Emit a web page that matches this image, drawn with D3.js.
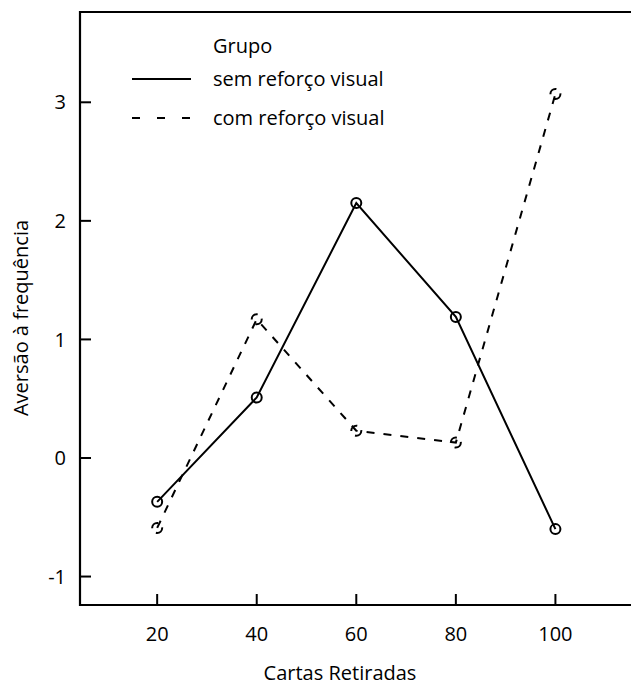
<!DOCTYPE html>
<html lang="pt">
<head>
<meta charset="UTF-8">
<script src="https://d3js.org/d3.v7.min.js"></script>
<style>
  body { margin: 0; background: #fff; }
  text { font-family: "Open Sans", "Noto Sans", sans-serif; fill: #000; }
</style>
</head>
<body>
<script>
  // dados
  const cartas = [20, 40, 60, 80, 100]
  const semReforco = [-0.37, 0.51, 2.15, 1.19, -0.60]
  const comReforco = [-0.59, 1.17, 0.23, 0.13, 3.07]
  const yTicks = [-1, 0, 1, 2, 3]
  const xTicks = [20, 40, 60, 80, 100]
  const grupos = ["sem reforço visual", "com reforço visual"]

  const width = 631, height = 689
  const fs = 20
  const svg = d3.select("body").append("svg")
    .attr("width", width)
    .attr("height", height)

  const x = d3.scaleLinear().domain([4.5, 119]).range([80, 650])
  const y = d3.scaleLinear().domain([-1.24, 3.77]).range([605, 11])

  // moldura (lado direito fora da imagem)
  svg.append("path")
    .attr("d", `M631,12H80V605H631`)
    .attr("fill", "none")
    .attr("stroke", "#000")
    .attr("stroke-width", 2.2)

  // eixo y
  const gy = svg.append("g")
  gy.selectAll("line").data(yTicks).enter().append("line")
    .attr("x1", 80).attr("x2", 91)
    .attr("y1", d => y(d)).attr("y2", d => y(d))
    .attr("stroke", "#000").attr("stroke-width", 2)
  gy.selectAll("text").data(yTicks).enter().append("text")
    .attr("x", 66).attr("y", d => y(d))
    .attr("dy", "0.36em")
    .attr("text-anchor", "end")
    .attr("font-size", fs)
    .text(d => d)

  // eixo x
  const gx = svg.append("g")
  gx.selectAll("line").data(xTicks).enter().append("line")
    .attr("x1", d => x(d)).attr("x2", d => x(d))
    .attr("y1", 605).attr("y2", 594)
    .attr("stroke", "#000").attr("stroke-width", 2)
  gx.selectAll("text").data(xTicks).enter().append("text")
    .attr("x", d => x(d)).attr("y", 641)
    .attr("text-anchor", "middle")
    .attr("font-size", fs)
    .text(d => d)

  svg.append("text")
    .attr("x", 340).attr("y", 680)
    .attr("text-anchor", "middle")
    .attr("font-size", fs)
    .text("Cartas Retiradas")

  svg.append("text")
    .attr("transform", "translate(28,318) rotate(-90)")
    .attr("text-anchor", "middle")
    .attr("font-size", fs)
    .text("Aversão à frequência")

  const line = d3.line()
    .x((d, i) => x(cartas[i]))
    .y(d => y(d))

  const series = [
    { vals: semReforco, dash: null },
    { vals: comReforco, dash: "8,9" }
  ]

  series.forEach(s => {
    svg.append("path")
      .datum(s.vals)
      .attr("d", line)
      .attr("fill", "none")
      .attr("stroke", "#000")
      .attr("stroke-width", 2)
      .attr("stroke-dasharray", s.dash)
    svg.append("g").selectAll("circle").data(s.vals).enter().append("circle")
      .attr("cx", (d, i) => x(cartas[i]))
      .attr("cy", d => y(d))
      .attr("r", 5)
      .attr("fill", "none")
      .attr("stroke", "#000")
      .attr("stroke-width", 2)
      .attr("stroke-dasharray", s.dash ? "9,6" : null)
  })

  // legenda
  const leg = svg.append("g")
  leg.append("text").attr("x", 213).attr("y", 53).attr("font-size", fs).text("Grupo")
  grupos.forEach((g, i) => {
    const ly = 79 + i * 39
    leg.append("line")
      .attr("x1", 132).attr("x2", 191)
      .attr("y1", ly).attr("y2", ly)
      .attr("stroke", "#000").attr("stroke-width", 2)
      .attr("stroke-dasharray", series[i].dash ? "8,17" : null)
    leg.append("text").attr("x", 213).attr("y", ly).attr("dy", "0.36em")
      .attr("font-size", fs).text(g)
  })
</script>
</body>
</html>
